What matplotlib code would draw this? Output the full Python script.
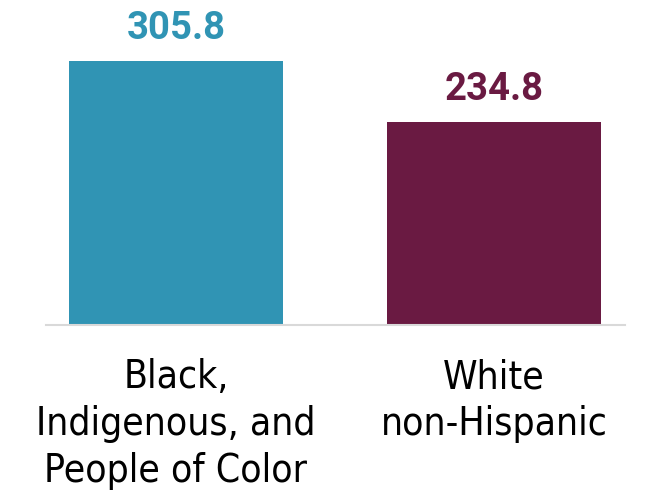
import matplotlib.pyplot as plt

groups = ["Black,\nIndigenous, and\nPeople of Color", "White\nnon-Hispanic"]
rates = [305.8, 234.8]
colors = ["#3094B4", "#6A1A42"]

fig = plt.figure(figsize=(6.5, 4.96), dpi=100)
ax = fig.add_axes([46 / 650, 171 / 496, 579 / 650, 325 / 496])

xs = range(len(rates))
ax.bar(xs, rates, width=0.673, color=colors, zorder=2)

# value labels above each bar, same colour as the bar
for x, v, c in zip(xs, rates, colors):
    ax.annotate(f"{v:.1f}", (x, v), xytext=(0, 10), textcoords="offset points",
                ha="center", va="bottom", fontsize=27.5, fontweight="bold",
                family="Roboto", color=c)

ax.set_xlim(-0.4088, 1.412)
ax.set_ylim(0, 376.5)
ax.set_xticks(list(xs))
ax.set_xticklabels(groups, fontsize=28, family="DejaVu Sans", fontstretch="condensed",
                   linespacing=1.3)
ax.tick_params(axis="x", length=0, pad=24)
ax.set_yticks([])

for s in ["top", "left", "right"]:
    ax.spines[s].set_visible(False)
ax.spines["bottom"].set_color("#d9d9d9")
ax.spines["bottom"].set_linewidth(1.5)

fig.savefig("out.png", dpi=100)
